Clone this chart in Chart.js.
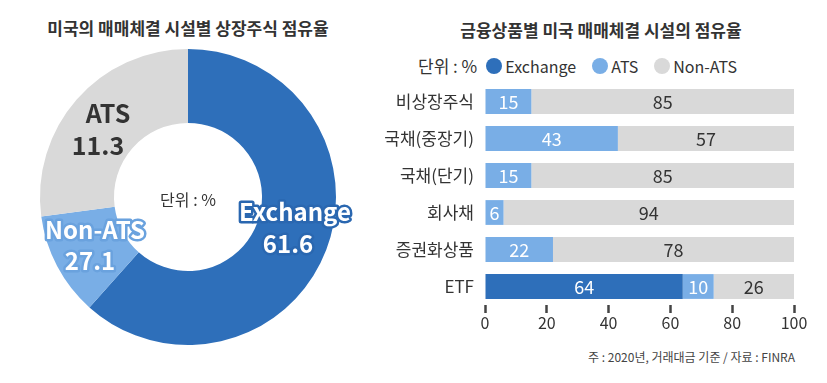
<!DOCTYPE html>
<html>
<head>
<meta charset="utf-8">
<script src="https://cdn.jsdelivr.net/npm/chart.js@4"></script>
<style>
  body { margin: 0; background: #fff; width: 827px; height: 383px; position: relative; overflow: hidden;
         font-family: "Noto Sans CJK KR", sans-serif; color: #333; }
  .title { position: absolute; font-weight: bold; font-size: 17px; white-space: nowrap; transform: translate(-50%, -50%); color: #333; }
  #c1 { position: absolute; left: 0; top: 0; }
  #c2 { position: absolute; left: 380px; top: 0; }
  .legend { position: absolute; left: 418px; top: 53px; font-size: 16px; white-space: nowrap; display: flex; align-items: center; }
  .dot { display: inline-block; width: 16px; height: 16px; border-radius: 50%; margin: 0 3px 0 9px; }
  .note { position: absolute; right: 32px; top: 348px; font-size: 12px; color: #444; white-space: nowrap; }
</style>
</head>
<body>
<div class="title" style="left:188px;top:27px">미국의 매매체결 시설별 상장주식 점유율</div>
<div class="title" style="left:601px;top:29px">금융상품별 미국 매매체결 시설의 점유율</div>
<div class="legend">
  <span style="font-size:17px">단위 : %</span>
  <span class="dot" style="background:#2e6fba"></span><span>Exchange</span>
  <span class="dot" style="background:#79aee6;margin-left:16px"></span><span>ATS</span>
  <span class="dot" style="background:#d9d9d9;margin-left:16px"></span><span>Non-ATS</span>
</div>
<div class="note">주 : 2020년, 거래대금 기준 / 자료 : FINRA</div>
<canvas id="c1" width="376" height="383"></canvas>
<canvas id="c2" width="447" height="383"></canvas>
<script>
// left: share of listed stocks by venue
const shareNames = ['Exchange', 'ATS', 'Non-ATS'];
const shareValues = [61.6, 11.3, 27.1];

// right: share by product
const categories = ['비상장주식', '국채(중장기)', '국채(단기)', '회사채', '증권화상품', 'ETF'];
const exchange = [0, 0, 0, 0, 0, 64];
const ats = [15, 43, 15, 6, 22, 10];
const nonAts = [85, 57, 85, 94, 78, 26];

const blue = '#2e6fba', lightBlue = '#79aee6', grey = '#d9d9d9';
const font = '"Noto Sans CJK KR", sans-serif';

// text spots relative to donut centre (as placed in the original graphic)
const spots = {
  'Exchange': { name: [107, 15], val: [100, 47], fill: '#fff', stroke: '#2a67b0', size: 24 },
  'Non-ATS': { name: [-93, 33], val: [-98, 64], fill: '#fff', stroke: '#6aa2de', size: 24 },
  'ATS': { name: [-80, -84], val: [-90, -52], fill: '#333', stroke: null, size: 25 }
};

const donutLabels = {
  id: 'donutLabels',
  afterDatasetsDraw(chart) {
    const ctx = chart.ctx;
    const arc = chart.getDatasetMeta(0).data[0];
    const cx = arc.x, cy = arc.y;
    ctx.save();
    ctx.textAlign = 'center';
    ctx.textBaseline = 'middle';
    ctx.fillStyle = '#333';
    ctx.font = '16px ' + font;
    ctx.fillText('단위 : %', cx, cy + 3);
    shareNames.forEach((n, i) => {
      const s = spots[n];
      ctx.font = 'bold ' + s.size + 'px ' + font;
      [[n, s.name], [String(shareValues[i]), s.val]].forEach(([txt, p]) => {
        if (s.stroke) {
          ctx.lineWidth = 5;
          ctx.lineJoin = 'round';
          ctx.strokeStyle = s.stroke;
          ctx.strokeText(txt, cx + p[0], cy + p[1]);
        }
        ctx.fillStyle = s.fill;
        ctx.fillText(txt, cx + p[0], cy + p[1]);
      });
    });
    ctx.restore();
  }
};

new Chart(document.getElementById('c1'), {
  type: 'doughnut',
  data: {
    labels: shareNames,
    datasets: [{ data: shareValues, backgroundColor: [blue, lightBlue, grey], borderWidth: 0 }]
  },
  options: {
    responsive: false,
    animation: false,
    cutout: '50%',
    layout: { padding: { top: 49, bottom: 38, left: 0, right: 0 } },
    plugins: { legend: { display: false }, tooltip: { enabled: false } }
  },
  plugins: [donutLabels]
});

const barLabels = {
  id: 'barLabels',
  afterDatasetsDraw(chart) {
    const ctx = chart.ctx;
    ctx.save();
    ctx.textAlign = 'center';
    ctx.textBaseline = 'middle';
    ctx.font = '18px ' + font;
    chart.data.datasets.forEach((ds, d) => {
      chart.getDatasetMeta(d).data.forEach((bar, i) => {
        const v = ds.data[i];
        if (!v) return;
        ctx.fillStyle = d < 2 ? '#fff' : '#333';
        ctx.fillText(String(v), (bar.x + bar.base) / 2, bar.y + 1);
      });
    });
    ctx.restore();
  }
};

new Chart(document.getElementById('c2'), {
  type: 'bar',
  data: {
    labels: categories,
    datasets: [
      { label: 'Exchange', data: exchange, backgroundColor: blue },
      { label: 'ATS', data: ats, backgroundColor: lightBlue },
      { label: 'Non-ATS', data: nonAts, backgroundColor: grey }
    ]
  },
  options: {
    indexAxis: 'y',
    responsive: false,
    animation: false,
    barPercentage: 0.67,
    categoryPercentage: 1,
    layout: { padding: { top: 83, right: 33, bottom: 48, left: 0 } },
    plugins: { legend: { display: false }, tooltip: { enabled: false } },
    scales: {
      x: {
        stacked: true, min: 0, max: 100,
        ticks: { stepSize: 20, color: '#333', font: { size: 16, family: font }, padding: 0 },
        grid: { drawOnChartArea: false, drawTicks: true, tickLength: 8, tickWidth: 2.5, tickColor: '#444' },
        border: { display: false },
        afterFit(s) { s.height = 30; }
      },
      y: {
        stacked: true,
        ticks: { color: '#333', font: { size: 17, family: font }, padding: 11 },
        grid: { display: false, drawTicks: false },
        border: { display: false },
        afterFit(s) { s.width = 105; }
      }
    }
  },
  plugins: [barLabels]
});
</script>
</body>
</html>
